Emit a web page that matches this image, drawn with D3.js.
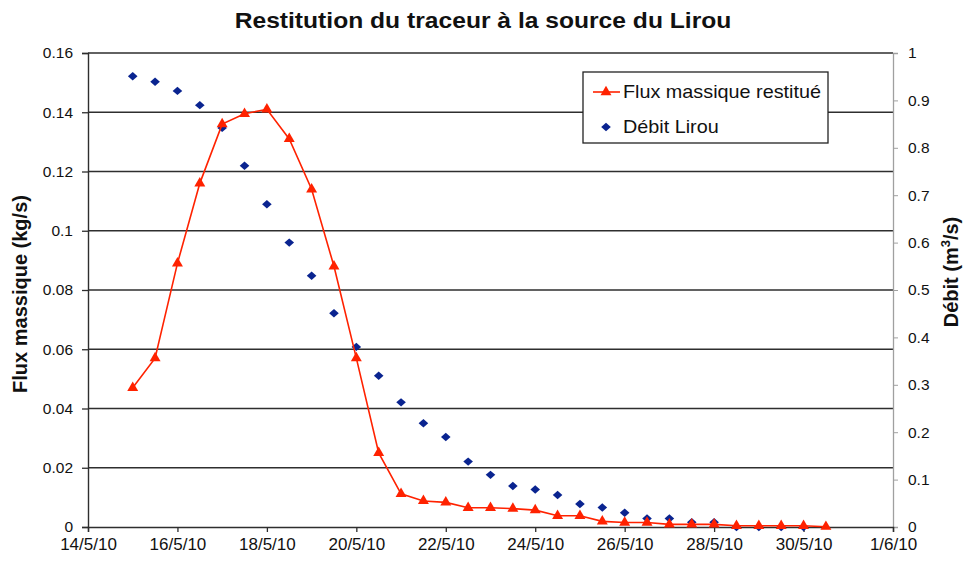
<!DOCTYPE html>
<html>
<head>
<meta charset="utf-8">
<script src="https://cdn.jsdelivr.net/npm/d3@7"></script>
<style>
  body { margin: 0; background: #fff; }
  svg { display: block; font-family: "Liberation Sans", Arial, Helvetica, sans-serif; }
</style>
</head>
<body>
<svg id="chart" width="966" height="561"></svg>
<script>
// Sampling instants (every 12 h from 15 May 2010)
const sampleTimes = [
  "2010-05-15T00:00", "2010-05-15T12:00", "2010-05-16T00:00", "2010-05-16T12:00",
  "2010-05-17T00:00", "2010-05-17T12:00", "2010-05-18T00:00", "2010-05-18T12:00",
  "2010-05-19T00:00", "2010-05-19T12:00", "2010-05-20T00:00", "2010-05-20T12:00",
  "2010-05-21T00:00", "2010-05-21T12:00", "2010-05-22T00:00", "2010-05-22T12:00",
  "2010-05-23T00:00", "2010-05-23T12:00", "2010-05-24T00:00", "2010-05-24T12:00",
  "2010-05-25T00:00", "2010-05-25T12:00", "2010-05-26T00:00", "2010-05-26T12:00",
  "2010-05-27T00:00", "2010-05-27T12:00", "2010-05-28T00:00", "2010-05-28T12:00",
  "2010-05-29T00:00", "2010-05-29T12:00", "2010-05-30T00:00", "2010-05-30T12:00"
];

// Mass flux of recovered tracer (kg/s)
const fluxMassique = [
  0.047, 0.057, 0.089, 0.116, 0.136, 0.1395, 0.141, 0.131,
  0.114, 0.088, 0.057, 0.025, 0.0112, 0.0088, 0.0083, 0.0065,
  0.0065, 0.0062, 0.0057, 0.0038, 0.0038, 0.0019, 0.0015, 0.0015,
  0.0009, 0.0009, 0.0009, 0.0004, 0.0004, 0.0004, 0.0004, 0.0001
];

// Discharge of the Lirou spring (m3/s), first 31 sampling instants
const debitLirou = [
  0.951, 0.9395, 0.920, 0.890, 0.842, 0.762, 0.681, 0.600,
  0.530, 0.451, 0.380, 0.319, 0.263, 0.219, 0.190, 0.138,
  0.110, 0.0865, 0.079, 0.0675, 0.0485, 0.041, 0.030, 0.018,
  0.018, 0.010, 0.010, 0, 0, 0, 0
];

const xTickLabels = ["14/5/10", "16/5/10", "18/5/10", "20/5/10", "22/5/10",
                     "24/5/10", "26/5/10", "28/5/10", "30/5/10", "1/6/10"];
const leftTicks = [0, 0.02, 0.04, 0.06, 0.08, 0.1, 0.12, 0.14, 0.16];
const rightTicks = [0, 0.1, 0.2, 0.3, 0.4, 0.5, 0.6, 0.7, 0.8, 0.9, 1];

const titleText = "Restitution du traceur à la source du Lirou";
const seriesNames = ["Flux massique restitué", "Débit Lirou"];
const colors = { flux: "#ff2200", debit: "#0a2490", grid: "#2e2e2e", axis: "#2e2e2e", raxis: "#a0a0a0", text: "#111" };

const W = 966, H = 561;
const margin = { top: 53, right: 73, bottom: 34, left: 88 };
const iw = W - margin.left - margin.right;
const ih = H - margin.top - margin.bottom;

const parseTime = d3.utcParse("%Y-%m-%dT%H:%M");
const parseTick = d3.utcParse("%d/%m/%y");
const times = sampleTimes.map(parseTime);
const tickDates = xTickLabels.map(parseTick);

const svg = d3.select("#chart");
const g = svg.append("g").attr("transform", `translate(${margin.left},${margin.top})`);

const x = d3.scaleUtc().domain([tickDates[0], tickDates[tickDates.length - 1]]).range([0, iw]);
const yL = d3.scaleLinear().domain([0, 0.16]).range([ih, 0]);
const yR = d3.scaleLinear().domain([0, 1]).range([ih, 0]);

// Horizontal gridlines on the flux scale
g.append("g").selectAll("line")
  .data(leftTicks.filter(v => v > 0))
  .join("line")
  .attr("x1", 0).attr("x2", iw)
  .attr("y1", d => yL(d)).attr("y2", d => yL(d))
  .attr("stroke", colors.grid).attr("stroke-width", 1.3);

// Right axis (discharge)
const rightAxis = g.append("g")
  .attr("transform", `translate(${iw},0)`)
  .call(d3.axisRight(yR).tickValues(rightTicks).tickSize(5).tickPadding(10).tickFormat(d => String(d)));
rightAxis.select(".domain").attr("stroke", colors.raxis).attr("stroke-width", 1.3);
rightAxis.selectAll(".tick line").attr("stroke", colors.raxis);
rightAxis.selectAll("text").attr("font-size", 15.5).attr("fill", colors.text);

// Left axis (mass flux)
const leftAxis = g.append("g")
  .call(d3.axisLeft(yL).tickValues(leftTicks).tickSize(6).tickPadding(9).tickFormat(d => String(d)));
leftAxis.select(".domain").attr("stroke", colors.axis).attr("stroke-width", 1.4);
leftAxis.selectAll(".tick line").attr("stroke", colors.axis).attr("stroke-width", 1.3);
leftAxis.selectAll("text").attr("font-size", 15.5).attr("fill", colors.text);

// Time axis
const bottomAxis = g.append("g")
  .attr("transform", `translate(0,${ih})`)
  .call(d3.axisBottom(x).tickValues(tickDates).tickSize(5).tickPadding(6)
    .tickFormat((d, i) => xTickLabels[i]));
bottomAxis.select(".domain").attr("stroke", colors.axis).attr("stroke-width", 1.4);
bottomAxis.selectAll(".tick line").attr("stroke", colors.axis).attr("stroke-width", 1.3);
bottomAxis.selectAll("text").attr("font-size", 17).attr("fill", colors.text);

// Discharge points (diamonds, slightly wider than tall)
const diamondPath = "M0,-4.2L4.8,0L0,4.2L-4.8,0Z";
g.append("g").selectAll("path")
  .data(debitLirou.map((v, i) => [times[i], v]))
  .join("path")
  .attr("d", diamondPath)
  .attr("transform", d => `translate(${x(d[0])},${yR(d[1])})`)
  .attr("fill", colors.debit);

// Mass flux line with triangle markers
const fluxData = fluxMassique.map((v, i) => [times[i], v]);
g.append("path")
  .datum(fluxData)
  .attr("fill", "none")
  .attr("stroke", colors.flux)
  .attr("stroke-width", 1.6)
  .attr("d", d3.line().x(d => x(d[0])).y(d => yL(d[1])));

const tri = d3.symbol().type(d3.symbolTriangle).size(52);
g.append("g").selectAll("path")
  .data(fluxData)
  .join("path")
  .attr("d", tri)
  .attr("transform", d => `translate(${x(d[0])},${yL(d[1])})`)
  .attr("fill", colors.flux);

// Title
svg.append("text")
  .attr("transform", "translate(483,28) scale(1.12,1)")
  .attr("text-anchor", "middle")
  .attr("font-size", 22).attr("font-weight", "bold").attr("fill", colors.text)
  .text(titleText);

// Axis titles
svg.append("text")
  .attr("transform", `translate(27,${margin.top + ih / 2 + 4}) rotate(-90)`)
  .attr("text-anchor", "middle")
  .attr("font-size", 20).attr("font-weight", "bold").attr("fill", colors.text)
  .text("Flux massique (kg/s)");

const rTitle = svg.append("text")
  .attr("transform", `translate(958,${margin.top + ih / 2 - 18}) rotate(-90)`)
  .attr("text-anchor", "middle")
  .attr("font-size", 20).attr("font-weight", "bold").attr("fill", colors.text);
rTitle.append("tspan").text("Débit (m");
rTitle.append("tspan").attr("font-size", 13).attr("dy", -8).text("3");
rTitle.append("tspan").attr("dy", 8).text("/s)");

// Legend
const lg = svg.append("g").attr("transform", "translate(583,72)");
lg.append("rect").attr("width", 245).attr("height", 71)
  .attr("fill", "#fff").attr("stroke", "#222").attr("stroke-width", 1.3);
lg.append("line").attr("x1", 10).attr("x2", 37).attr("y1", 20).attr("y2", 20)
  .attr("stroke", colors.flux).attr("stroke-width", 1.6);
lg.append("path").attr("d", tri).attr("transform", "translate(23,20)").attr("fill", colors.flux);
lg.append("path").attr("d", diamondPath).attr("transform", "translate(23,55)").attr("fill", colors.debit);
lg.selectAll("text.lab")
  .data(seriesNames)
  .join("text")
  .attr("class", "lab")
  .attr("transform", (d, i) => `translate(40,${26 + i * 35}) scale(1.1,1)`)
  .attr("font-size", 18).attr("fill", colors.text)
  .text(d => d);
</script>
</body>
</html>
